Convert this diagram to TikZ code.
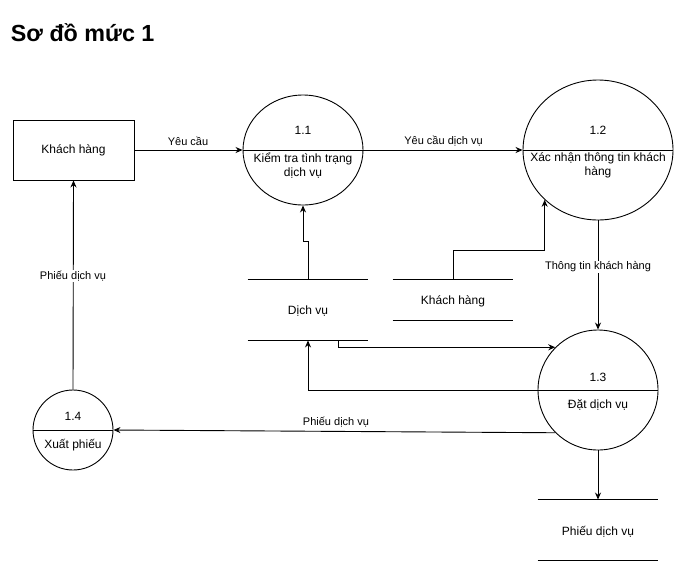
\documentclass[tikz,border=0pt]{standalone}
\usepackage{fontspec}
\setmainfont{Liberation Sans}
\usetikzlibrary{shapes.geometric,arrows.meta}
\begin{document}
\begin{tikzpicture}[x=1pt,y=-1pt, line width=0.9pt,
  proc/.style={draw, ellipse, inner sep=0pt},
  ent/.style={draw, rectangle, minimum width=121pt, minimum height=60pt, inner sep=0pt, font=\fontsize{12}{14}\selectfont},
  txt/.style={inner sep=0pt, font=\fontsize{12}{14.5}\selectfont, align=center},
  lbl/.style={inner sep=1pt, font=\fontsize{11}{13}\selectfont},
  wlbl/.style={lbl, fill=white},
  store/.style={inner sep=0pt, minimum width=120pt, font=\fontsize{12}{14}\selectfont},
  flow/.style={-{Stealth[length=7pt,width=6pt]}},
]
\useasboundingbox (0,0) rectangle (684,571);
\node[anchor=base west, inner sep=0pt, font=\fontsize{23.3}{27}\selectfont\bfseries] (title) at (10.5,41) {Sơ đồ mức 1};

% external entity
\node[ent] (kh) at (73.5,150) {Khách hàng};

% processes
\node[proc, minimum width=120pt, minimum height=110pt] (p11) at (303,150) {};
\node[proc, minimum width=150pt, minimum height=140pt] (p12) at (598,150) {};
\node[proc, minimum width=120pt, minimum height=120pt] (p13) at (598,390) {};
\node[proc, minimum width=80pt, minimum height=80pt] (p14) at (73,430) {};
\draw (p11.west) -- (p11.east);
\draw (p12.west) -- (p12.east);
\draw (p13.west) -- (p13.east);
\draw (p14.west) -- (p14.east);
\node[txt] (p11n) at (303,130) {1.1};
\node[txt] (p11t) at (303,165.5) {Kiểm tra tình trạng\\dịch vụ};
\node[txt] (p12n) at (598,130) {1.2};
\node[txt] (p12t) at (598,165.5) {Xác nhận thông tin khách\\hàng};
\node[txt] (p13n) at (598,377) {1.3};
\node[txt] (p13t) at (598,405) {Đặt dịch vụ};
\node[txt] (p14n) at (73,416.5) {1.4};
\node[txt] (p14t) at (73,445) {Xuất phiếu};

% data stores
\node[store, minimum height=60pt] (sdv) at (308,310) {};
\node[store, minimum height=40pt] (skh) at (453,300) {};
\node[store, minimum height=60pt] (spd) at (598,530) {};
\node[txt] (sdvt) at (308,311.5) {Dịch vụ};
\node[txt] (skht) at (453,301.5) {Khách hàng};
\node[txt] (spdt) at (598,531.5) {Phiếu dịch vụ};
\foreach \s in {sdv,skh,spd}{
  \draw (\s.north west) -- (\s.north east);
  \draw (\s.south west) -- (\s.south east);
}

% flows
\draw[flow] (kh.east) -- (p11.west);
\node[lbl] (l1) at (188,141) {Yêu cầu};
\draw[flow] (p11.east) -- (p12.west);
\node[lbl] (l2) at (443.5,141) {Yêu cầu dịch vụ};
\draw[flow] (skh.north) -- ++(0,-29) -| (p12.south west);
\draw[flow] (p12.south) -- (p13.north);
\node[wlbl] (l3) at (598,267) {Thông tin khách hàng};
\draw[flow] (sdv.north) -- ++(0,-38) -| (p11.south);
\draw[flow] ([xshift=30pt]sdv.south) |- (p13.north west);
\draw[flow] (p13.west) -| (sdv.south);
\draw[flow] (p13.south) -- (spd.north);
\draw[flow] (p13.south west) -- (p14.east);
\node[lbl] (l4) at (336,422.5) {Phiếu dịch vụ};
\draw[flow] (p14.north) -- (kh.south);
\node[wlbl] (l5) at (73,276) {Phiếu dịch vụ};
\end{tikzpicture}
\end{document}
